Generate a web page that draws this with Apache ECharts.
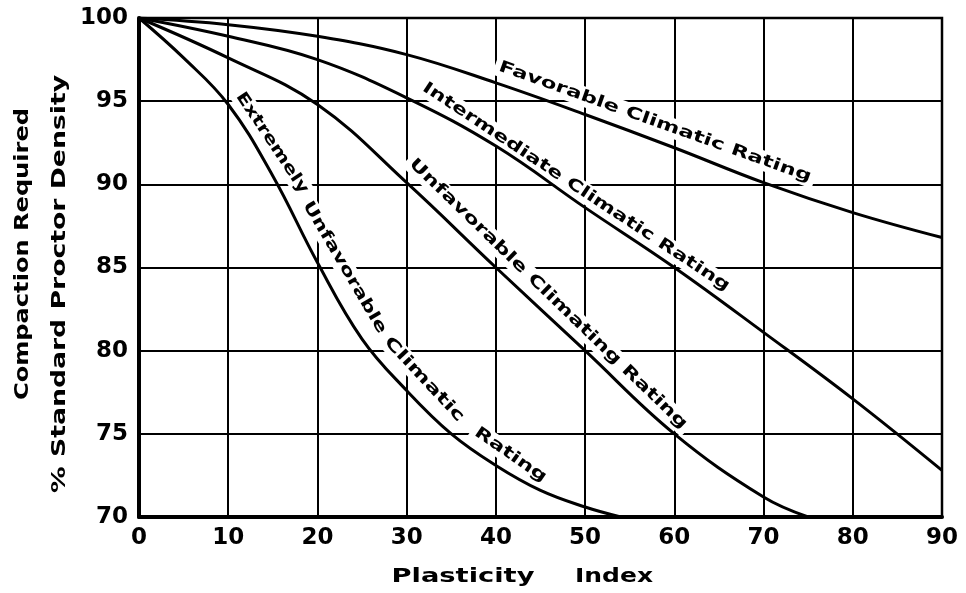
<!DOCTYPE html>
<html>
<head>
<meta charset="utf-8">
<script src="https://cdn.jsdelivr.net/npm/echarts@6/dist/echarts.min.js"></script>
<style>
  html, body { margin: 0; padding: 0; background: #fff; }
  #chart { width: 966px; height: 593px; }
</style>
</head>
<body>
<div id="chart"></div>
<script>
// Axis ticks
const xTicks = [0, 10, 20, 30, 40, 50, 60, 70, 80, 90];
const yTicks = [70, 75, 80, 85, 90, 95, 100];

// Plasticity index vs. required compaction (% Standard Proctor density)
const favorable    = [[0, 100], [10, 99.6], [20, 98.9], [30, 97.8], [40, 96.1], [50, 94.2], [60, 92.2], [70, 90.1], [80, 88.3], [90, 86.8]];
const intermediate = [[0, 100], [10, 98.9], [20, 97.5], [30, 95.2], [40, 92.3], [50, 88.6], [60, 85.0], [70, 81.1], [80, 77.1], [90, 72.8]];
const unfavorable  = [[0, 100], [10, 97.6], [20, 94.8], [30, 90.1], [40, 85.0], [50, 80.0], [60, 75.0], [70, 71.2], [75, 70.0]];
const extremely    = [[0, 100], [5, 97.6], [10, 94.8], [15, 90.5], [20, 85.3], [25, 80.7], [30, 77.6], [35, 75.0], [40, 73.1], [45, 71.6], [50, 70.6], [54, 70.0]];

// Curve captions: text plus start/end points in data units along which the text runs
const curveLabels = [
  { text: 'Favorable Climatic Rating',     from: [40.9, 96.99], to: [74.76, 90.50] },
  { text: 'Intermediate Climatic Rating',  from: [32.39, 95.73], to: [65.57, 83.95] },
  { text: 'Unfavorable Climating Rating',  from: [30.93, 91.16], to: [60.75, 75.65] },
  { text: 'Extremely',                     from: [11.54, 95.19], to: [18.27, 89.78] },
  { text: 'Unfavorable',                   from: [19.05, 88.64], to: [27.01, 81.36] },
  { text: 'Climatic',                      from: [28.13, 80.46], to: [35.75, 76.07] },
  { text: 'Rating',                        from: [38.22, 74.99], to: [45.06, 72.46] }
];

const FONT_FAMILY = 'DejaVu Sans';
const INK = '#000';

const chart = echarts.init(document.getElementById('chart'), null, { renderer: 'canvas' });

const measureCtx = document.createElement('canvas').getContext('2d');
function textWidth(text, font) {
  measureCtx.font = font;
  return measureCtx.measureText(text).width;
}

// A stretched caption whose width spans the given pixel length
function caption(text, x, y, rotationDeg, fontSize, length, styleExtra, z) {
  const font = 'bold ' + fontSize + 'px "' + FONT_FAMILY + '"';
  const w = textWidth(text, font);
  return {
    type: 'text',
    x: x,
    y: y,
    rotation: rotationDeg * Math.PI / 180,
    scaleX: length / w,
    z: z || 5,
    style: Object.assign({
      text: text,
      font: font,
      fill: INK,
      align: 'center',
      verticalAlign: 'middle'
    }, styleExtra || {})
  };
}

const series = [favorable, intermediate, unfavorable, extremely].map(function (d) {
  return {
    type: 'line',
    data: d,
    smooth: 0.4,
    showSymbol: false,
    silent: true,
    z: 4,
    lineStyle: { color: INK, width: 3 }
  };
});

chart.setOption({
  animation: false,
  backgroundColor: '#fff',
  grid: { left: 139, right: 24, top: 18, bottom: 76, show: true, borderColor: INK, borderWidth: 2.5 },
  xAxis: {
    type: 'value', min: xTicks[0], max: xTicks[xTicks.length - 1], interval: xTicks[1] - xTicks[0],
    axisLine: { show: true, onZero: false, lineStyle: { color: INK, width: 4 } },
    axisTick: { show: false },
    splitLine: { show: true, lineStyle: { color: INK, width: 2 } },
    axisLabel: {
      color: INK, fontFamily: FONT_FAMILY, fontWeight: 'bold', fontSize: 23, margin: 10,
      formatter: function (v) { return String(xTicks[xTicks.indexOf(v)]); }
    }
  },
  yAxis: {
    type: 'value', min: yTicks[0], max: yTicks[yTicks.length - 1], interval: yTicks[1] - yTicks[0],
    axisLine: { show: true, onZero: false, lineStyle: { color: INK, width: 4 } },
    axisTick: { show: false },
    splitLine: { show: true, lineStyle: { color: INK, width: 2 } },
    axisLabel: {
      color: INK, fontFamily: FONT_FAMILY, fontWeight: 'bold', fontSize: 23, margin: 11,
      padding: [6, 0, 0, 0],
      formatter: function (v) { return String(yTicks[yTicks.indexOf(v)]); }
    }
  },
  series: series
});

// Captions along the curves, anchored in data coordinates
const graphics = curveLabels.map(function (l) {
  const a = chart.convertToPixel({ gridIndex: 0 }, l.from);
  const b = chart.convertToPixel({ gridIndex: 0 }, l.to);
  const dx = b[0] - a[0], dy = b[1] - a[1];
  const len = Math.sqrt(dx * dx + dy * dy) + 10;
  const ang = -Math.atan2(dy, dx) * 180 / Math.PI;
  return caption(l.text, (a[0] + b[0]) / 2, (a[1] + b[1]) / 2, ang, 16, len,
    { backgroundColor: '#fff', padding: [2, 3] }, 3);
});

// Axis titles
graphics.push(caption('Plasticity', 463, 577, 0, 20, 143));
graphics.push(caption('Index', 614, 577, 0, 20, 78));
graphics.push(caption('Compaction Required', 23, 254, 90, 20, 292));
graphics.push(caption('% Standard Proctor Density', 60, 284, 90, 20, 418));

chart.setOption({ graphic: graphics });
</script>
</body>
</html>
